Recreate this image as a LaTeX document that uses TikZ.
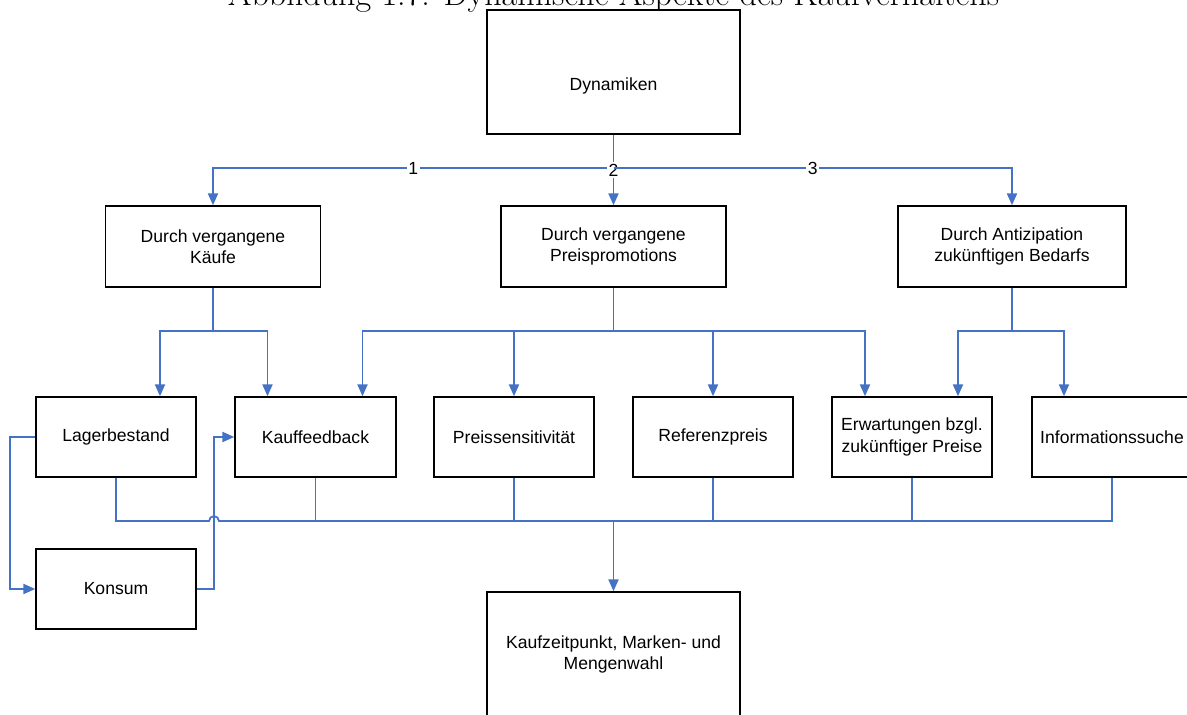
\documentclass[tikz,border=0pt]{standalone}
\usepackage{fontspec}
\usepackage{tikz}
\usetikzlibrary{arrows.meta,positioning,calc}
\newfontfamily\boxfont{Liberation Sans}
\definecolor{linkblue}{HTML}{4472C4}

\tikzset{
  box/.style={draw=black,line width=0.9pt,fill=white,align=center,inner sep=2pt,
    font=\boxfont\fontsize{10}{12}\selectfont},
  link/.style={draw=linkblue,line width=1pt},
  arr/.style={link,-{Triangle[length=6.8pt,width=5.8pt]}},
  lbl/.style={fill=white,inner sep=1pt,font=\boxfont\fontsize{10}{12}\selectfont},
}

\begin{document}
\begin{tikzpicture}[x=0.02cm,y=-0.02cm]
  \useasboundingbox (0,0) rectangle (1187,715);
  \node[anchor=base,font=\fontsize{19.4}{22}\selectfont] (title) at (613.5,6) {Abbildung 1.7: Dynamische Aspekte des Kaufverhaltens};

  % boxes
  \node[box,minimum width=253*0.02cm,minimum height=124*0.02cm] (dyn) at (613.5,72) {};
  \node[font=\boxfont\fontsize{10}{12}\selectfont] (dyntext) at (613.5,86) {Dynamiken};
  \node[box,minimum width=215*0.02cm,minimum height=81*0.02cm] (kaeufe) at (213,246.5) {Durch vergangene\\Käufe};
  \node[box,minimum width=225*0.02cm,minimum height=81*0.02cm] (promo) at (613.5,246.5) {Durch vergangene\\Preispromotions};
  \node[box,minimum width=228*0.02cm,minimum height=81*0.02cm] (bedarf) at (1012,246.5) {Durch Antizipation\\zukünftigen Bedarfs};

  \node[box,minimum width=160*0.02cm,minimum height=80*0.02cm] (lager) at (116,437) {Lagerbestand};
  \node[box,minimum width=161*0.02cm,minimum height=80*0.02cm] (feedback) at (315.5,437) {Kauffeedback};
  \node[box,minimum width=160*0.02cm,minimum height=80*0.02cm] (sens) at (514,437) {Preissensitivität};
  \node[box,minimum width=160*0.02cm,minimum height=80*0.02cm] (referenz) at (713,437) {Referenzpreis};
  \node[box,minimum width=160*0.02cm,minimum height=80*0.02cm] (erwart) at (912,437) {Erwartungen bzgl.\\zukünftiger Preise};
  \node[box,minimum width=160*0.02cm,minimum height=80*0.02cm] (info) at (1112,437) {Informationssuche};
  \node[box,minimum width=160*0.02cm,minimum height=80*0.02cm] (konsum) at (116,589) {Konsum};
  \node[box,minimum width=253*0.02cm,minimum height=124*0.02cm] (kauf) at (613.5,654) {Kaufzeitpunkt, Marken- und\\Mengenwahl};

  % Dynamiken -> drei Ursachen
  \coordinate (fork) at (dyn.south |- 0,168);
  \draw[arr] (dyn.south) -- (fork) -- node[lbl]{1} (kaeufe.north |- fork) -- (kaeufe.north);
  \draw[arr] (dyn.south) -- node[lbl]{2} (promo.north);
  \draw[arr] (fork) -- node[lbl]{3} (bedarf.north |- fork) -- (bedarf.north);

  % Ursachen -> Aspekte
  \draw[link] (kaeufe.south) -- ++(0,43) coordinate (s1);
  \draw[arr] (s1) -| ($(lager.north)+(44,0)$);
  \draw[arr] (s1) -| ($(feedback.north)+(-48,0)$);
  \draw[link] (promo.south) -- ++(0,43) coordinate (s2);
  \draw[arr] (s2) -| ($(feedback.north)+(47,0)$);
  \draw[arr] (s2) -| (sens.north);
  \draw[arr] (s2) -| (referenz.north);
  \draw[arr] (s2) -| ($(erwart.north)+(-47,0)$);
  \draw[link] (bedarf.south) -- ++(0,43) coordinate (s3);
  \draw[arr] (s3) -| ($(erwart.north)+(46,0)$);
  \draw[arr] (s3) -| ($(info.north)+(-48,0)$);

  % Lagerbestand <-> Konsum -> Kauffeedback
  \coordinate (jump) at (214,521);
  \draw[arr] (lager.west) -- ++(-25,0) |- (konsum.west);
  \draw[arr] (konsum.east) -| (jump |- feedback.west) -- (feedback.west);

  % Aspekte -> Kaufentscheidung
  \coordinate (bus) at (kauf.north |- jump);
  \draw[link] (lager.south) |- ([xshift=-2.8pt]jump) arc[start angle=180,end angle=0,radius=2.8pt] -| (info.south);
  \foreach \n in {feedback,sens,referenz,erwart}
    \draw[link] (\n.south) -- (\n.south |- bus);
  \draw[arr] (bus) -- (kauf.north);
\end{tikzpicture}
\end{document}
